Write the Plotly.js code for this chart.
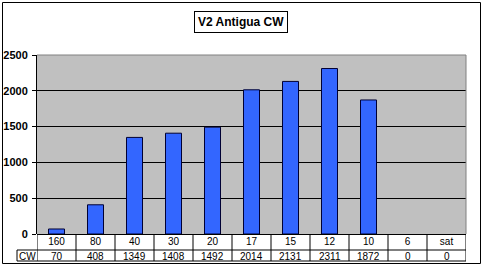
<!DOCTYPE html>
<html>
<head>
<meta charset="utf-8">
<script src="https://cdn.plot.ly/plotly-3.0.1.min.js"></script>
<style>html,body{margin:0;padding:0;background:#fff;}#chart{width:484px;height:267px;}</style>
</head>
<body>
<div id="chart"></div>
<script>
const bands = ["160", "80", "40", "30", "20", "17", "15", "12", "10", "6", "sat"];
const cwQsos = [70, 408, 1349, 1408, 1492, 2014, 2131, 2311, 1872, 0, 0];
const seriesName = "CW";
const chartTitle = "V2 Antigua CW";

const W = 484, H = 267;
const L = 37, R = 466, T = 55, B = 234;
const pw = R - L, ph = B - T;
const px = v => (v - L) / pw;
const py = v => (B - v) / ph;

const row1 = 250, row2 = 261;
const shapes = [];
shapes.push({type:'line', xref:'paper', yref:'paper', x0:px(L), x1:px(R), y0:py(row1), y1:py(row1), line:{color:'#000', width:1}});
shapes.push({type:'line', xref:'paper', yref:'paper', x0:px(17), x1:px(R), y0:py(row2), y1:py(row2), line:{color:'#000', width:1}});
shapes.push({type:'line', xref:'paper', yref:'paper', x0:px(17), x1:px(L), y0:py(row1), y1:py(row1), line:{color:'#000', width:1}});
shapes.push({type:'line', xref:'paper', yref:'paper', x0:px(17), x1:px(17), y0:py(row1), y1:py(row2), line:{color:'#000', width:1}});
for (let i = 0; i <= bands.length; i++) {
  shapes.push({type:'line', xref:'x', yref:'paper', x0:i - 0.5, x1:i - 0.5, y0:py(B), y1:py(row2), line:{color:'#000', width:1}});
}
shapes.push({type:'line', xref:'paper', yref:'paper', x0:0, x1:1, y0:1, y1:1, line:{color:'#808080', width:1}});
shapes.push({type:'line', xref:'paper', yref:'paper', x0:1, x1:1, y0:0, y1:1, line:{color:'#808080', width:1}});
shapes.push({type:'rect', xref:'paper', yref:'paper', x0:px(2.5), x1:px(480.5), y0:py(2.5), y1:py(263.5), line:{color:'#000', width:1}, layer:'above'});

const annotations = [];
cwQsos.forEach((v, i) => {
  annotations.push({xref:'x', yref:'paper', x:i, y:py((row1 + row2) / 2 + 0.5), text:String(v), showarrow:false,
    font:{family:'Arial, Liberation Sans', size:10, color:'#000'}, xanchor:'center', yanchor:'middle'});
});
annotations.push({xref:'paper', yref:'paper', x:px(27), y:py((row1 + row2) / 2 + 0.5), text:seriesName, showarrow:false,
  font:{family:'Arial, Liberation Sans', size:10, color:'#000'}, xanchor:'center', yanchor:'middle'});
annotations.push({xref:'paper', yref:'paper', x:px(241), y:py(22.5), text:'<b>' + chartTitle + '</b>', showarrow:false,
  font:{family:'Arial, Liberation Sans', size:12, color:'#000'}, xanchor:'center', yanchor:'middle',
  bgcolor:'#fff', bordercolor:'#000', borderwidth:1, borderpad:3});

const trace = {
  type:'bar', x:bands, y:cwQsos, name:seriesName, width:0.41,
  marker:{color:'#3366FF', line:{color:'#000033', width:cwQsos.map(v => v > 0 ? 1 : 0)}},
  hoverinfo:'none'
};

const layout = {
  width:W, height:H,
  margin:{l:L, r:W - R, t:T, b:H - B, pad:0},
  paper_bgcolor:'#fff', plot_bgcolor:'#C0C0C0',
  showlegend:false,
  xaxis:{type:'category', showgrid:false, zeroline:false, showline:false, ticks:'',
    tickfont:{family:'Arial, Liberation Sans', size:10, color:'#000'}, ticklabelstandoff:0,
    range:[-0.5, bands.length - 0.5], fixedrange:true},
  yaxis:{range:[0, 2500], dtick:500, tick0:0, showgrid:true, gridcolor:'#000', gridwidth:1,
    zeroline:true, zerolinecolor:'#000', zerolinewidth:1,
    showline:true, linecolor:'#000', linewidth:1, ticks:'outside', ticklen:4, tickcolor:'#000',
    tickfont:{family:'Arial, Liberation Sans', size:11, color:'#000', weight:'bold'},
    ticklabelstandoff:2, fixedrange:true},
  shapes:shapes,
  annotations:annotations
};

Plotly.newPlot('chart', [trace], layout, {staticPlot:true, displayModeBar:false});
</script>
</body>
</html>
